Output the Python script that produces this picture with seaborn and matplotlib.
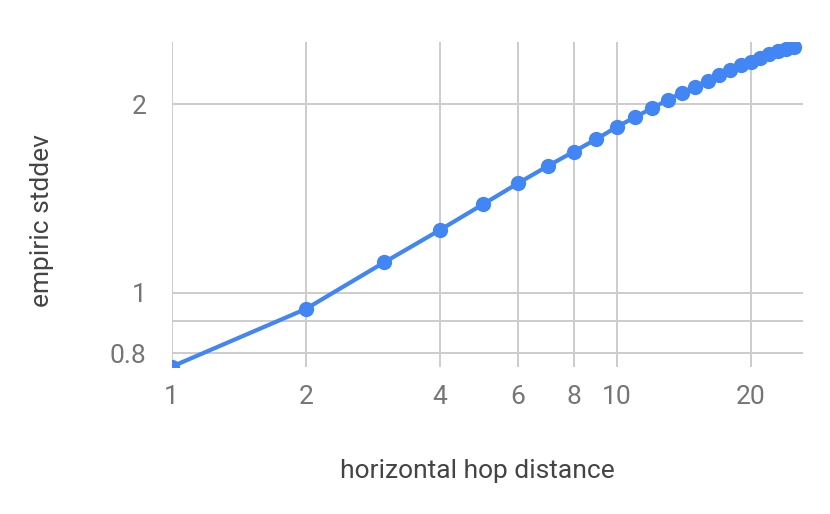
import matplotlib
matplotlib.use("Agg")
import matplotlib.pyplot as plt
import matplotlib.ticker as mticker
import seaborn as sns
import pandas as pd

# hop distance vs empiric stddev
hop_distance = list(range(1, 26))
empiric_stddev = [0.762, 0.942, 1.118, 1.259, 1.384, 1.496, 1.594, 1.680,
                  1.760, 1.840, 1.909, 1.971, 2.032, 2.087, 2.134, 2.181,
                  2.228, 2.269, 2.309, 2.339, 2.371, 2.404, 2.433, 2.453,
                  2.472]

x_ticks = [1, 2, 4, 6, 8, 10, 20]
x_tick_labels = ["1", "2", "4", "6", "8", "10", "20"]
y_ticks = [0.8, 0.9, 1, 2]
y_tick_labels = ["0.8", "", "1", "2"]

df = pd.DataFrame({"hop": hop_distance, "stddev": empiric_stddev})

sns.set_theme(style="white")
plt.rcParams["font.family"] = ["Roboto", "DejaVu Sans"]

fig = plt.figure(figsize=(8.3, 5.14), dpi=100)
ax = fig.add_axes([0.2069, 0.286, 0.7606, 0.6323])

sns.lineplot(data=df, x="hop", y="stddev", ax=ax, color="#4285F4",
             linewidth=3.0, marker="o", markersize=11,
             markeredgewidth=0, legend=False)

ax.set_xscale("log")
ax.set_yscale("log")
ax.set_xlim(1, 26.2)
ax.set_ylim(0.761, 2.515)

ax.xaxis.set_major_locator(mticker.FixedLocator(x_ticks))
ax.xaxis.set_major_formatter(mticker.FixedFormatter(x_tick_labels))
ax.xaxis.set_minor_locator(mticker.NullLocator())
ax.yaxis.set_major_locator(mticker.FixedLocator(y_ticks))
ax.yaxis.set_major_formatter(mticker.FixedFormatter(y_tick_labels))
ax.yaxis.set_minor_locator(mticker.NullLocator())

ax.grid(True, color="#cccccc", linewidth=1.4)
ax.set_axisbelow(True)
for s in ax.spines.values():
    s.set_visible(False)

ax.tick_params(axis="x", length=0, pad=13, labelsize=19, labelcolor="#757575")
ax.tick_params(axis="y", length=8, width=1.4, color="#cccccc", pad=10,
               labelsize=19, labelcolor="#757575")

ax.set_xlabel("horizontal hop distance", fontsize=19, color="#444444",
              va="center")
ax.xaxis.set_label_coords(0.484, -0.32)
ax.set_ylabel("empiric stddev", fontsize=19, color="#444444", va="center")
ax.yaxis.set_label_coords(-0.206, 0.45)

fig.savefig("out.png", dpi=100)
